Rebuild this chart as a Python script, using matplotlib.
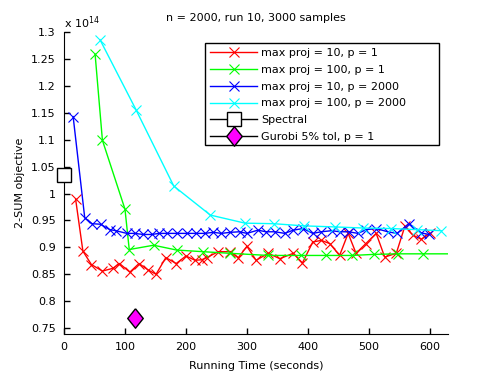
import matplotlib
matplotlib.use("Agg")
import matplotlib.pyplot as plt
from matplotlib.patches import Rectangle
import numpy as np

# running time (s) and 2-SUM objective (x 1e14)
t_p10_r1 = [19, 31, 45, 63, 80, 91, 108, 123, 138, 151, 167, 184, 200, 215, 226, 234,
            253, 273, 286, 300, 315, 335, 354, 376, 391, 408, 422, 436, 452, 466,
            479, 495, 512, 526, 545, 559, 572, 586, 600]
y_p10_r1 = [0.990, 0.893, 0.868, 0.856, 0.861, 0.870, 0.854, 0.870, 0.858, 0.850, 0.881,
            0.870, 0.884, 0.876, 0.877, 0.881, 0.892, 0.892, 0.881, 0.902, 0.876, 0.889,
            0.879, 0.889, 0.871, 0.910, 0.913, 0.907, 0.885, 0.926, 0.889, 0.907, 0.926,
            0.882, 0.889, 0.939, 0.923, 0.915, 0.926]

t_p100_r1 = [51, 63, 100, 107, 147, 185, 228, 272, 335, 389, 430, 472, 509, 548, 589, 660]
y_p100_r1 = [1.259, 1.099, 0.971, 0.896, 0.904, 0.895, 0.892, 0.889, 0.885, 0.885, 0.885,
             0.885, 0.887, 0.888, 0.888, 0.888]

t_p10_r2000 = [15, 34, 46, 60, 75, 85, 103, 116, 130, 144, 156, 169, 186, 201, 217, 231,
               245, 258, 273, 288, 300, 318, 331, 346, 362, 376, 392, 408, 422, 439,
               452, 467, 482, 496, 512, 531, 546, 566, 586, 598]
y_p10_r2000 = [1.143, 0.955, 0.944, 0.943, 0.933, 0.931, 0.926, 0.926, 0.924, 0.924, 0.926,
               0.926, 0.926, 0.926, 0.926, 0.926, 0.928, 0.926, 0.928, 0.929, 0.926, 0.932,
               0.929, 0.929, 0.926, 0.932, 0.935, 0.926, 0.929, 0.931, 0.929, 0.929, 0.926,
               0.933, 0.935, 0.929, 0.926, 0.944, 0.927, 0.924]

t_p100_r2000 = [59, 118, 180, 240, 297, 344, 393, 444, 490, 537, 579, 619]
y_p100_r2000 = [1.286, 1.156, 1.014, 0.960, 0.945, 0.944, 0.940, 0.938, 0.936, 0.935,
                0.933, 0.931]

t_spectral = [0]
y_spectral = [1.034]
t_gurobi = [116]
y_gurobi = [0.769]

plt.rcParams['font.family'] = ['DejaVu Sans']
plt.rcParams['font.size'] = 8

fig = plt.figure(figsize=(4.95, 3.75), dpi=100)
ax = fig.add_axes([0.1293, 0.1093, 0.776, 0.805])

mk = dict(marker='x', markersize=6.5, markeredgewidth=0.8, linewidth=1)
ax.plot(t_p10_r1, y_p10_r1, color=(1, 0, 0), label='max proj = 10, p = 1', **mk)
ax.plot(t_p100_r1, y_p100_r1, color=(0, 1, 0), label='max proj = 100, p = 1', **mk)
ax.plot(t_p10_r2000, y_p10_r2000, color=(0, 0, 1), label='max proj = 10, p = 2000', **mk)
ax.plot(t_p100_r2000, y_p100_r2000, color=(0, 1, 1), label='max proj = 100, p = 2000', **mk)
ax.plot(t_spectral, y_spectral, color='k', marker='s', markersize=10, markerfacecolor='w',
        markeredgecolor='k', linewidth=1, label='Spectral', clip_on=False, zorder=5)
diamond = [(0, 1), (0.8, 0), (0, -1), (-0.8, 0), (0, 1)]
ax.plot(t_gurobi, y_gurobi, color='k', marker=diamond, markersize=14,
        markerfacecolor=(1, 0, 1), markeredgecolor='k', linewidth=1,
        label='Gurobi 5% tol, p = 1', zorder=5)

ax.set_xlim(0, 630)
ax.set_ylim(0.739, 1.3)
ax.set_xticks(np.arange(0, 601, 100))
ax.set_yticks(np.arange(0.75, 1.301, 0.05))
ax.set_yticklabels(['%g' % round(v, 2) for v in np.arange(0.75, 1.301, 0.05)])
ax.spines['top'].set_visible(False)
ax.spines['right'].set_visible(False)
ax.tick_params(direction='in', length=4, width=1, labelsize=8, pad=6)

ax.set_xlabel('Running Time (seconds)', fontsize=8, labelpad=6)
ax.set_ylabel('2-SUM objective', fontsize=8, labelpad=4)
ax.set_title('n = 2000, run 10, 3000 samples', fontsize=8, pad=8)
ax.text(0, 1.005, r'x 10$^{14}$', transform=ax.transAxes, fontsize=8,
        ha='left', va='bottom')

# legend box drawn separately so it can be wider than its text
ax.add_patch(Rectangle((0.3677, 0.6248), 0.6089, 0.3398, transform=ax.transAxes,
                       facecolor='w', edgecolor='k', linewidth=1, zorder=6))
leg = ax.legend(loc='upper left', bbox_to_anchor=(0.3677, 0.9646), fontsize=8,
                handlelength=4.2, frameon=False, borderpad=0.45, borderaxespad=0,
                labelspacing=0.62, handletextpad=0.4)
leg.set_zorder(7)

fig.savefig('out.png', dpi=100)
